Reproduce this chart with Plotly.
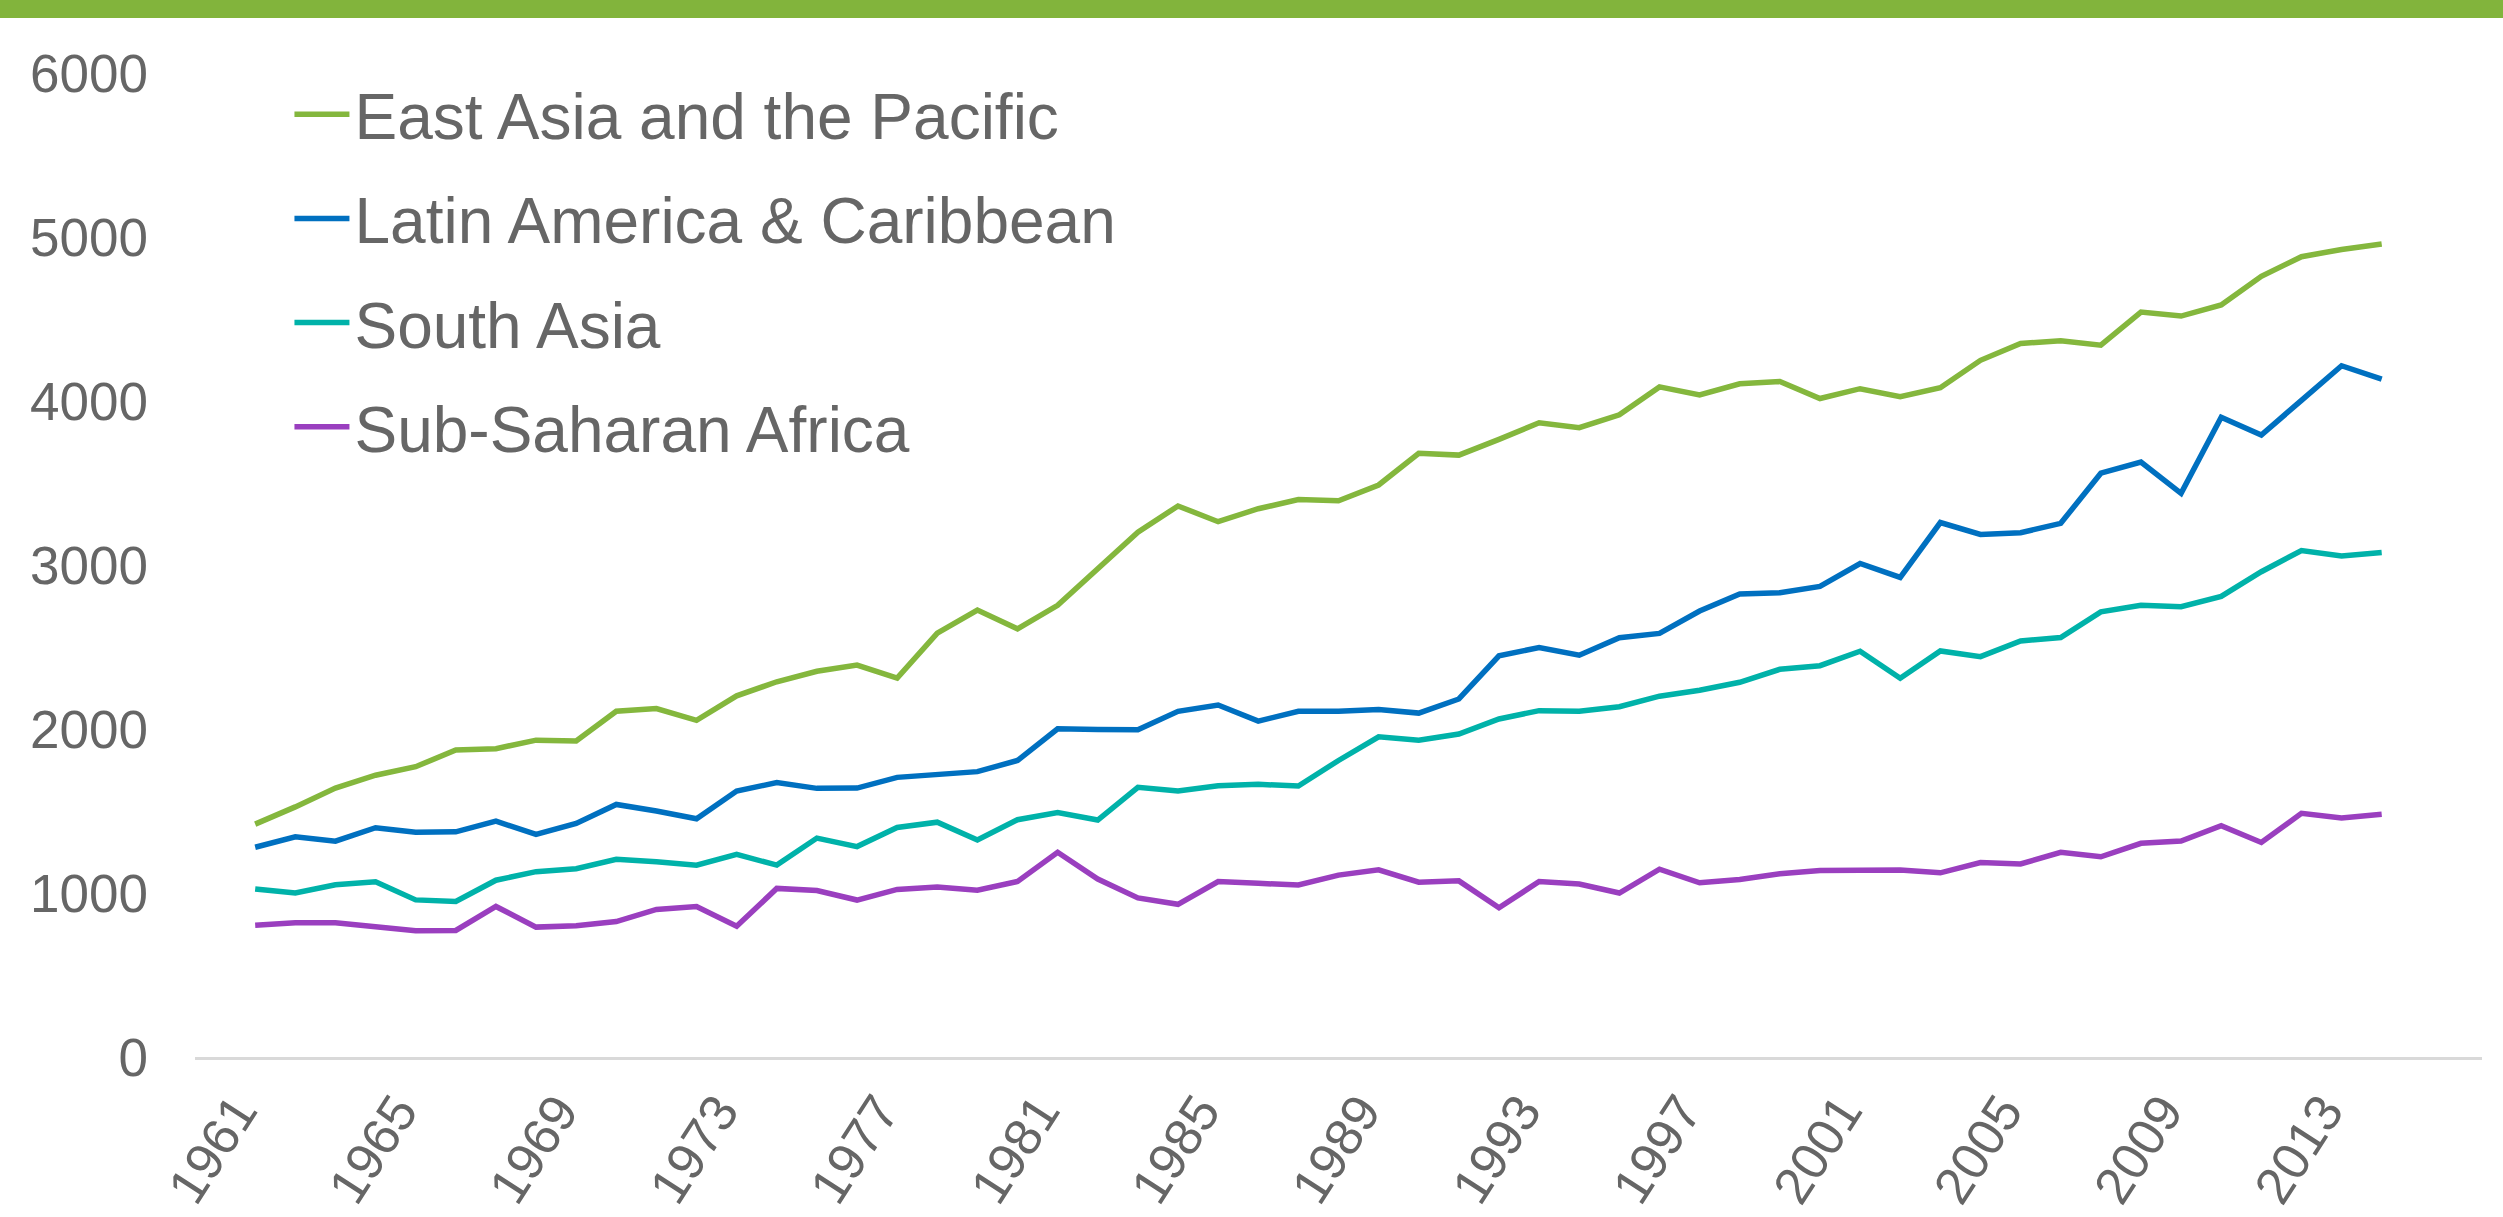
import plotly.graph_objects as go

years = list(range(1961, 2015))

east_asia_pacific = [
    1420, 1525, 1640, 1718, 1770, 1872, 1880, 1932, 1927, 2108,
    2125, 2053, 2202, 2288, 2352, 2390, 2311, 2585, 2725, 2611,
    2754, 2979, 3200, 3360, 3264, 3343, 3399, 3392, 3488, 3681,
    3670, 3766, 3867, 3837, 3916, 4086, 4037, 4105, 4119, 4015,
    4075, 4026, 4081, 4248, 4351, 4367, 4340, 4542, 4518, 4586,
    4760, 4880, 4924, 4957,
]
latin_america_caribbean = [
    1279, 1343, 1316, 1398, 1371, 1373, 1438, 1357, 1424, 1540,
    1500, 1453, 1622, 1673, 1638, 1640, 1705, 1723, 1740, 1808,
    2001, 1997, 1995, 2108, 2146, 2048, 2108, 2108, 2119, 2097,
    2183, 2446, 2497, 2450, 2557, 2583, 2719, 2823, 2831, 2869,
    3009, 2924, 3259, 3186, 3197, 3254, 3560, 3628, 3437, 3901,
    3792, 4004, 4215, 4133,
]
south_asia = [
    1025, 1000, 1050, 1068, 958, 948, 1078, 1130, 1148, 1205,
    1190, 1170, 1235, 1170, 1335, 1283, 1400, 1432, 1323, 1447,
    1490, 1445, 1644, 1622, 1654, 1663, 1652, 1808, 1952, 1932,
    1969, 2061, 2112, 2108, 2136, 2200, 2236, 2285, 2364, 2386,
    2474, 2310, 2476, 2441, 2537, 2558, 2714, 2755, 2746, 2809,
    2959, 3088, 3055, 3076,
]
sub_saharan_africa = [
    803, 818, 818, 790, 770, 772, 918, 792, 800, 826,
    900, 918, 797, 1028, 1015, 957, 1022, 1037, 1017, 1070,
    1248, 1085, 970, 931, 1070, 1059, 1049, 1109, 1141, 1066,
    1074, 910, 1070, 1055, 1000, 1145, 1062, 1082, 1117, 1137,
    1137, 1140, 1123, 1186, 1177, 1248, 1221, 1303, 1317, 1410,
    1308, 1486, 1458, 1480,
]

series_names = ["East Asia and the Pacific", "Latin America & Caribbean",
                "South Asia", "Sub-Saharan Africa"]
series_values = [east_asia_pacific, latin_america_caribbean, south_asia, sub_saharan_africa]
series_colors = ["#84b73d", "#0070c0", "#00b2a9", "#9a3fbf"]

x_tick_years = list(range(1961, 2014, 4))
y_tick_values = [0, 1000, 2000, 3000, 4000, 5000, 6000]

FONT = "Liberation Sans, Arial, sans-serif"
GRAY = "#666666"

fig = go.Figure()
for name, vals, col in zip(series_names, series_values, series_colors):
    fig.add_trace(go.Scatter(
        x=years, y=vals, name=name, mode="lines",
        line=dict(color=col, width=5.5), legendgroup=name,
    ))

fig.update_layout(
    width=2503, height=1217,
    margin=dict(l=195, r=21, t=73, b=160),
    paper_bgcolor="white", plot_bgcolor="white",
    font=dict(family=FONT, color=GRAY),
    showlegend=True,
    legend=dict(
        x=0.0413, y=1.007, xanchor="left", yanchor="top",
        font=dict(size=64, color=GRAY, family=FONT),
        bgcolor="rgba(0,0,0,0)", traceorder="grouped",
        tracegroupgap=18, itemwidth=55,
    ),
    xaxis=dict(
        range=[1959.5, 2016.5], tickmode="array", tickvals=x_tick_years,
        ticktext=[str(y) for y in x_tick_years], tickangle=-57,
        tickfont=dict(size=52, color=GRAY, family=FONT),
        showgrid=False, zeroline=False, showline=True,
        linecolor="#d9d9d9", linewidth=3, ticks="",
        ticklabelstandoff=0, ticklabelshift=-18, automargin=False,
    ),
    yaxis=dict(
        range=[0, 6000], tickmode="array", tickvals=y_tick_values,
        tickfont=dict(size=53, color=GRAY, family=FONT),
        showgrid=False, zeroline=False, showline=False, ticks="",
        ticklabelstandoff=46, automargin=False,
    ),
    shapes=[dict(
        type="rect", xref="paper", yref="paper",
        x0=-0.2, x1=1.2, y0=1 + (73 - 18) / 984, y1=1.2,
        fillcolor="#82b43c", line=dict(width=0), layer="above",
    )],
)

fig.write_html(
    "out.html",
    config={"displayModeBar": False},
    post_script="document.body.style.margin='0';document.body.style.overflow='hidden';",
)
